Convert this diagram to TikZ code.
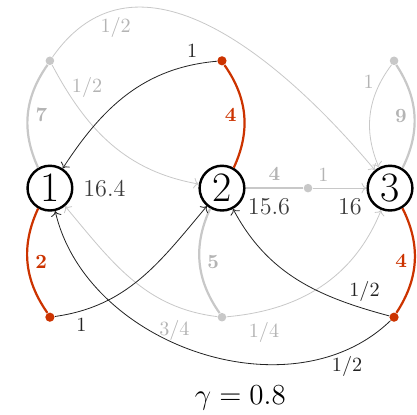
\documentclass[tikz,border=0pt]{standalone}
\usepackage{amsmath}
\usepackage{tikz}
\usetikzlibrary{arrows.meta,positioning}
\definecolor{cRed}{RGB}{204,51,0}
\definecolor{cGray}{RGB}{200,200,200}
\definecolor{cGrayTxt}{RGB}{180,180,180}
\definecolor{cDark}{RGB}{35,35,35}
\definecolor{cVal}{RGB}{60,60,60}
\tikzset{
  statenode/.style={circle,draw=black,line width=1.2pt,minimum size=0.78cm,
                    inner sep=0pt,font=\huge},
  vallabel/.style={font=\large,text=cVal,inner sep=1pt},
  graydot/.style={circle,fill=cGray,inner sep=0pt,minimum size=1.5mm},
  reddot/.style={circle,fill=cRed,inner sep=0pt,minimum size=1.6mm},
  rededge/.style={line width=1.1pt,color=cRed},
  grayedge/.style={line width=1.1pt,color=cGray},
  grayarr/.style={->,>=To,thin,color=cGray},
  blkarr/.style={->,>=To,thin,color=cDark},
  rlab/.style={font=\bfseries,text=cRed},
  gblab/.style={font=\bfseries,text=cGrayTxt},
  glab/.style={text=cGrayTxt},
  blab/.style={text=cDark}
}

\begin{document}
\begin{tikzpicture}
  \useasboundingbox (-0.87,-3.94) rectangle (6.40,3.28);
  % states
  \node[statenode] (s1) {1};
  \node[statenode,on grid,right=3cm of s1] (s2) {2};
  \node[statenode,on grid,right=2.93cm of s2] (s3) {3};
  \node[vallabel,right=0.13cm of s1] (v1) {16.4};
  \node[vallabel,below right=-0.15cm and 0.12cm of s2] (v2) {15.6};
  \node[vallabel,below left=-0.15cm and 0.16cm of s3] (v3) {16};
  % actions
  \node[graydot,on grid,above=2.22cm of s1] (a1) {};
  \node[reddot,on grid,above=2.22cm of s2] (r2) {};
  \node[graydot,on grid,above right=2.22cm and 0.07cm of s3] (a3) {};
  \node[reddot,on grid,below=2.25cm of s1] (r1) {};
  \node[graydot,on grid,below=2.25cm of s2] (g2) {};
  \node[reddot,on grid,below right=2.25cm and 0.07cm of s3] (r3) {};
  \node[graydot,on grid,right=1.5cm of s2] (m2) {};
  \node[font=\Large,on grid,below right=3.66cm and 0.32cm of s2] (gam)
      {$\gamma = 0.8$};

  \draw[grayedge] (s1) to[bend left=30] node[gblab,right]{7} (a1);
  \draw[grayarr] (a1) to[out=55,in=130,looseness=1.1]
      node[glab,below,pos=0.22]{1/2} (s3);
  \draw[grayarr] (a1) to[out=-62,in=170] node[glab,right,pos=0.12]{1/2} (s2);
  \draw[grayedge] (s2) -- node[gblab,above]{4} (m2);
  \draw[grayarr] (m2) -- node[glab,above,pos=0.2]{1} (s3);
  \draw[grayedge] (s3) to[bend right=30] node[gblab,left]{9} (a3);
  \draw[grayarr] (a3) to[bend right=30] node[glab,left,pos=0.17]{1} (s3);
  \draw[grayedge] (s2) to[bend right=30] node[gblab,right]{5} (g2);
  \draw[grayarr] (g2) to[out=173,in=-50] node[glab,below left,pos=0.1]{3/4} (s1);
  \draw[grayarr] (g2) to[out=5,in=-112] node[glab,below right,pos=0.07]{1/4} (s3);

  \draw[blkarr] (r2) to[out=185,in=57] node[blab,above,pos=0.12]{1} (s1);
  \draw[blkarr] (r1) to[out=8,in=-130] node[blab,below,pos=0.13]{1} (s2);
  \draw[blkarr] (r3) to[out=165,in=-62] node[blab,above,pos=0.12]{1/2} (s2);
  \draw[blkarr] (r3) to[out=-136,in=-77] node[blab,below,pos=0.13]{1/2} (s1);

  \draw[rededge] (s2) to[bend right=30] node[rlab,left]{4} (r2);
  \draw[rededge] (s1) to[bend right=30] node[rlab,right]{2} (r1);
  \draw[rededge] (s3) to[bend left=30] node[rlab,left]{4} (r3);
\end{tikzpicture}
\end{document}
